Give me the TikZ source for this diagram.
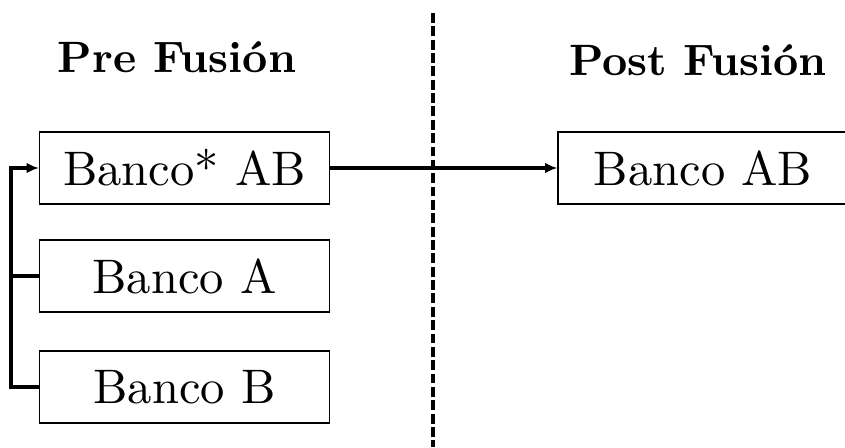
\documentclass[tikz,border=0pt]{standalone}
\usepackage{fontspec}
\setmainfont{lmroman10-regular.otf}[BoldFont=lmroman10-bold.otf]
\usepackage{tikz}
\usetikzlibrary{
    arrows.meta,
    positioning
}

\begin{document}
\begin{tikzpicture}[
        banco/.style={draw, line width=0.6pt, minimum width=5.8cm, minimum height=1.44cm,
            inner sep=0pt, font=\fontsize{27.6}{32}\selectfont},
        titulo/.style={font=\fontsize{25}{29}\selectfont\bfseries},
        flecha/.style={line width=1.8pt, -{Latex[length=7pt, width=6pt]}},
        linea/.style={line width=1.8pt}
    ]
                        \useasboundingbox (0, 0) rectangle (16.9, -8.94);
                        \begin{scope}
                            \node[titulo, anchor=base] (pre) at (3.54, -1.44) {Pre Fusión};
                            \node[banco] (bAB) at (3.69, -3.36) {Banco* AB};
                            \node[banco] (bA) at (3.69, -5.52) {Banco A};
                            \node[banco] (bB) at (3.69, -7.74) {Banco B};
                            \draw[linea] (bA.west) -- ++(-0.56, 0);
                            \draw[flecha] (bB.west) -- ++(-0.56, 0) |- (bAB.west);
                        \end{scope}
                        \begin{scope}
                            \coordinate (sepArriba) at (8.66, -0.26);
                            \coordinate (sepAbajo) at (8.66, -8.94);
                            \draw[line width=1.8pt, dash pattern=on 5.6pt off 2pt] (sepArriba) -- (sepAbajo);
                        \end{scope}
                        \begin{scope}
                            \node[titulo, anchor=base] (post) at (13.96, -1.5) {Post Fusión};
                            \node[banco] (bPost) at (14.06, -3.36) {Banco AB};
                            \draw[flecha] (bAB.east) -- (bPost.west);
                        \end{scope}
                    \end{tikzpicture}
\end{document}
